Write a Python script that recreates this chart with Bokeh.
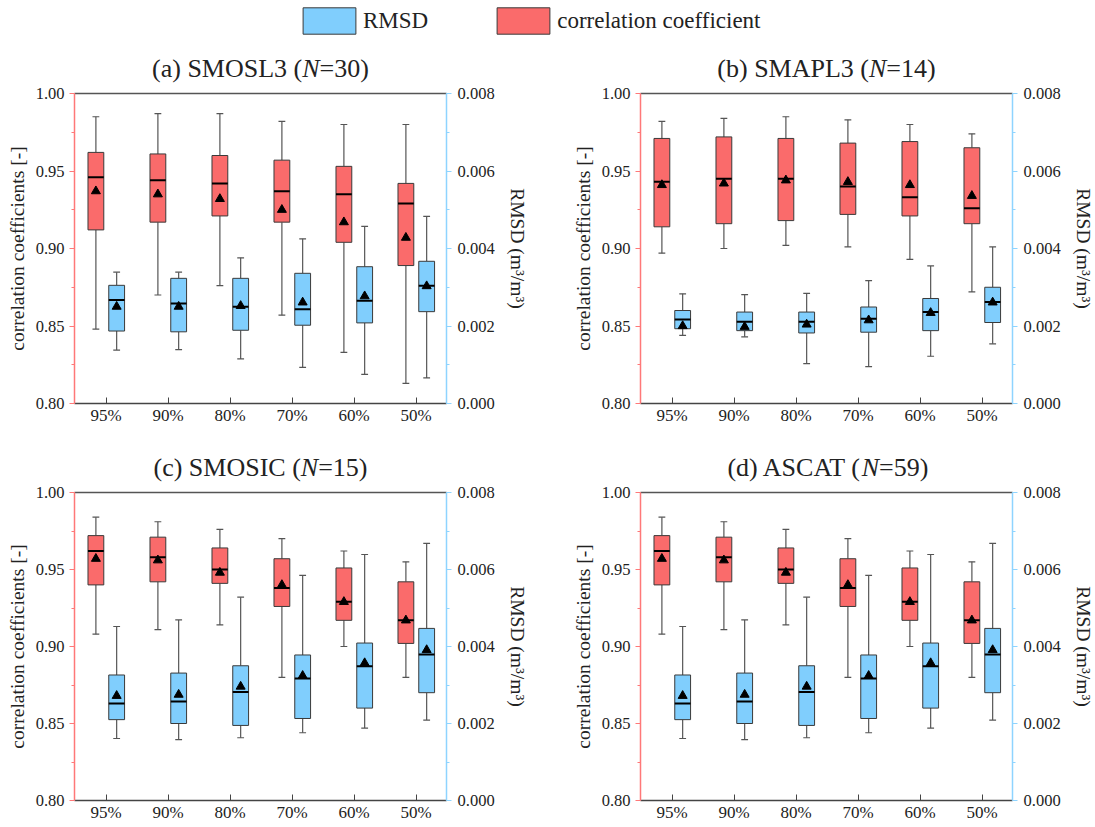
from bokeh.plotting import figure
from bokeh.models import (Range1d, LinearAxis, FixedTicker, NumeralTickFormatter,
                          Label, Legend, LegendItem, ColumnDataSource)
from bokeh.layouts import column, row
from bokeh.embed import file_html
from bokeh.resources import INLINE

# ---------------- data ----------------
categories = ["95%", "90%", "80%", "70%", "60%", "50%"]
corr_ticks = [0.80, 0.85, 0.90, 0.95, 1.00]
corr_minor = [0.825, 0.875, 0.925, 0.975]
rmsd_ticks = [0.000, 0.002, 0.004, 0.006, 0.008]
rmsd_minor = [0.001, 0.003, 0.005, 0.007]

# (a) SMOSL3
a_r_lo = [0.848, 0.870, 0.876, 0.857, 0.833, 0.813]
a_r_q1 = [0.912, 0.917, 0.921, 0.917, 0.904, 0.889]
a_r_med = [0.946, 0.944, 0.942, 0.937, 0.935, 0.929]
a_r_q3 = [0.962, 0.961, 0.960, 0.957, 0.953, 0.942]
a_r_hi = [0.985, 0.987, 0.987, 0.982, 0.980, 0.980]
a_r_mean = [0.937, 0.935, 0.932, 0.925, 0.917, 0.907]
a_e_lo = [0.00138, 0.00139, 0.00115, 0.00093, 0.00075, 0.00066]
a_e_q1 = [0.00187, 0.00185, 0.00189, 0.00202, 0.00208, 0.00237]
a_e_med = [0.00267, 0.00258, 0.00250, 0.00243, 0.00265, 0.00304]
a_e_q3 = [0.00305, 0.00323, 0.00323, 0.00336, 0.00353, 0.00367]
a_e_hi = [0.00339, 0.00339, 0.00376, 0.00425, 0.00457, 0.00483]
a_e_mean = [0.00250, 0.00250, 0.00252, 0.00261, 0.00277, 0.00303]

# (b) SMAPL3
b_r_lo = [0.897, 0.900, 0.902, 0.901, 0.893, 0.872]
b_r_q1 = [0.914, 0.916, 0.918, 0.922, 0.921, 0.916]
b_r_med = [0.943, 0.945, 0.945, 0.940, 0.933, 0.926]
b_r_q3 = [0.971, 0.972, 0.971, 0.968, 0.969, 0.965]
b_r_hi = [0.982, 0.984, 0.985, 0.983, 0.980, 0.974]
b_r_mean = [0.941, 0.942, 0.944, 0.943, 0.941, 0.934]
b_e_lo = [0.00176, 0.00172, 0.00103, 0.00095, 0.00122, 0.00154]
b_e_q1 = [0.00193, 0.00188, 0.00182, 0.00184, 0.00188, 0.00209]
b_e_med = [0.00217, 0.00211, 0.00211, 0.00219, 0.00236, 0.00262]
b_e_q3 = [0.00240, 0.00236, 0.00236, 0.00249, 0.00271, 0.00300]
b_e_hi = [0.00283, 0.00281, 0.00284, 0.00317, 0.00355, 0.00404]
b_e_mean = [0.00200, 0.00198, 0.00204, 0.00215, 0.00234, 0.00261]

# (c) SMOSIC
c_r_lo = [0.908, 0.911, 0.914, 0.880, 0.900, 0.880]
c_r_q1 = [0.940, 0.942, 0.941, 0.926, 0.917, 0.902]
c_r_med = [0.962, 0.958, 0.950, 0.938, 0.929, 0.917]
c_r_q3 = [0.972, 0.971, 0.964, 0.957, 0.951, 0.942]
c_r_hi = [0.984, 0.981, 0.976, 0.970, 0.962, 0.955]
c_r_mean = [0.957, 0.956, 0.948, 0.940, 0.929, 0.917]
c_e_lo = [0.00161, 0.00158, 0.00163, 0.00176, 0.00188, 0.00209]
c_e_q1 = [0.00210, 0.00200, 0.00195, 0.00213, 0.00240, 0.00280]
c_e_med = [0.00252, 0.00257, 0.00282, 0.00317, 0.00349, 0.00379]
c_e_q3 = [0.00326, 0.00331, 0.00350, 0.00378, 0.00409, 0.00447]
c_e_hi = [0.00452, 0.00469, 0.00528, 0.00585, 0.00639, 0.00668]
c_e_mean = [0.00272, 0.00275, 0.00296, 0.00324, 0.00357, 0.00391]

# (d) ASCAT (same values as shown in panel c)
d_r_lo = [0.908, 0.911, 0.914, 0.880, 0.900, 0.880]
d_r_q1 = [0.940, 0.942, 0.941, 0.926, 0.917, 0.902]
d_r_med = [0.962, 0.958, 0.950, 0.938, 0.929, 0.917]
d_r_q3 = [0.972, 0.971, 0.964, 0.957, 0.951, 0.942]
d_r_hi = [0.984, 0.981, 0.976, 0.970, 0.962, 0.955]
d_r_mean = [0.957, 0.956, 0.948, 0.940, 0.929, 0.917]
d_e_lo = [0.00161, 0.00158, 0.00163, 0.00176, 0.00188, 0.00209]
d_e_q1 = [0.00210, 0.00200, 0.00195, 0.00213, 0.00240, 0.00280]
d_e_med = [0.00252, 0.00257, 0.00282, 0.00317, 0.00349, 0.00379]
d_e_q3 = [0.00326, 0.00331, 0.00350, 0.00378, 0.00409, 0.00447]
d_e_hi = [0.00452, 0.00469, 0.00528, 0.00585, 0.00639, 0.00668]
d_e_mean = [0.00272, 0.00275, 0.00296, 0.00324, 0.00357, 0.00391]

# ---------------- style ----------------
FONT = "Liberation Serif"
RED = "#FA6B6B"
BLUE = "#80CEFD"
RED_AX = "#FF7878"
BLUE_AX = "#8ED4FF"
TXT = "#222222"
EDGE = "#3A3A3A"
WHISK = "#555555"
BOX_W = 0.255
CAP_W = 0.11
OFF_R = -0.165
OFF_B = 0.17
X0, X1 = -0.51, 5.49
FW = 372
TITLE_SIZE = 26

# approximate Times widths (per 1000 em) for placing the italic N in the titles
TW = {"(": 333, ")": 333, "a": 444, "b": 500, "c": 444, "d": 500, " ": 250,
      "S": 556, "M": 889, "O": 722, "L": 611, "A": 722, "P": 556, "I": 333,
      "C": 667, "T": 611, "=": 564}
for ch in "0123456789":
    TW[ch] = 500


def tw(s, size):
    return sum(TW.get(ch, 500) for ch in s) * size / 1000.0


def draw_box(p, lo, q1, med, q3, hi, mean, offset, fill, y_range_name="default"):
    xs = [i + offset for i in range(len(categories))]
    src = ColumnDataSource(dict(
        x=xs, lo=lo, q1=q1, med=med, q3=q3, hi=hi, mean=mean,
        cl=[x - CAP_W / 2 for x in xs], cr=[x + CAP_W / 2 for x in xs],
        bl=[x - BOX_W / 2 for x in xs], br=[x + BOX_W / 2 for x in xs],
    ))
    kw = dict(source=src, y_range_name=y_range_name)
    p.segment(x0="x", x1="x", y0="lo", y1="q1", line_color=WHISK, line_width=1.2, **kw)
    p.segment(x0="x", x1="x", y0="q3", y1="hi", line_color=WHISK, line_width=1.2, **kw)
    p.segment(x0="cl", x1="cr", y0="lo", y1="lo", line_color=WHISK, line_width=1.2, **kw)
    p.segment(x0="cl", x1="cr", y0="hi", y1="hi", line_color=WHISK, line_width=1.2, **kw)
    p.vbar(x="x", width=BOX_W, bottom="q1", top="q3", fill_color=fill,
           line_color=EDGE, line_width=1, **kw)
    p.segment(x0="bl", x1="br", y0="med", y1="med", line_color="black", line_width=2, **kw)
    p.scatter(x="x", y="mean", marker="triangle", size=9, fill_color="black",
              line_color="black", **kw)


def make_title(prefix, nval, mbl, mbr, height, base):
    t = figure(frame_width=FW, height=height, x_range=Range1d(0, 1), y_range=Range1d(0, 1),
               toolbar_location=None, output_backend="svg",
               x_axis_location=None, y_axis_location=None,
               min_border_left=mbl, min_border_right=mbr, min_border_top=0, min_border_bottom=0)
    t.grid.visible = False
    t.outline_line_color = None
    size = TITLE_SIZE
    s1 = prefix + " ("
    s3 = "=" + nval + ")"
    wN = 667 * size / 1000.0
    total = tw(s1, size) + wN + tw(s3, size)
    split = -total / 2 + tw(s1, size)
    common = dict(x=0.5, y=0, y_offset=base, text_font=FONT, text_font_size=f"{size}px",
                  text_color=TXT, text_baseline="bottom")
    t.add_layout(Label(text=s1, x_offset=split, text_align="right", **common))
    t.add_layout(Label(text="N", x_offset=split, text_align="left",
                       text_font_style="italic", **common))
    t.add_layout(Label(text=s3, x_offset=split + wN, text_align="left", **common))
    return t


def make_panel(r, e, mbl, mbr, mbt, mbb, fh):
    p = figure(frame_width=FW, frame_height=fh,
               x_range=Range1d(X0, X1), y_range=Range1d(0.80, 1.00),
               toolbar_location=None, output_backend="svg",
               min_border_left=mbl, min_border_right=mbr,
               min_border_top=mbt, min_border_bottom=mbb)
    p.extra_y_ranges = {"rmsd": Range1d(0.0, 0.008)}
    p.grid.visible = False
    p.outline_line_color = None

    # bottom axis
    xa = p.xaxis[0]
    xa.ticker = FixedTicker(ticks=list(range(len(categories))))
    xa.major_label_overrides = {i: c for i, c in enumerate(categories)}
    xa.major_tick_in = 6
    xa.major_tick_out = 0
    xa.minor_tick_line_color = None
    xa.axis_line_color = "#444444"
    xa.axis_line_width = 1.5
    xa.major_tick_line_color = "#444444"
    xa.major_label_text_font = FONT
    xa.major_label_text_font_size = "17px"
    xa.major_label_text_color = TXT
    xa.major_label_standoff = 2

    # left axis
    ya = p.yaxis[0]
    ya.ticker = FixedTicker(ticks=corr_ticks, minor_ticks=corr_minor)
    ya.formatter = NumeralTickFormatter(format="0.00")
    ya.axis_label = "correlation coefficients [-]"
    ya.axis_label_text_font = FONT
    ya.axis_label_text_font_style = "normal"
    ya.axis_label_text_font_size = "19.5px"
    ya.axis_label_text_color = TXT
    ya.axis_label_standoff = 5
    ya.major_label_text_font = FONT
    ya.major_label_text_font_size = "16.5px"
    ya.major_label_text_color = TXT
    ya.major_label_standoff = 5
    ya.axis_line_color = RED_AX
    ya.axis_line_width = 1.5
    ya.major_tick_line_color = RED_AX
    ya.minor_tick_line_color = RED_AX
    ya.major_tick_in = 0
    ya.major_tick_out = 5
    ya.minor_tick_in = 0
    ya.minor_tick_out = 3

    # right axis
    ra = LinearAxis(y_range_name="rmsd", axis_label="RMSD (m³/m³)")
    ra.ticker = FixedTicker(ticks=rmsd_ticks, minor_ticks=rmsd_minor)
    ra.formatter = NumeralTickFormatter(format="0.000")
    ra.axis_label_text_font = FONT
    ra.axis_label_text_font_style = "normal"
    ra.axis_label_text_font_size = "19.5px"
    ra.axis_label_text_color = TXT
    ra.axis_label_standoff = 9
    ra.major_label_text_font = FONT
    ra.major_label_text_font_size = "16.5px"
    ra.major_label_text_color = TXT
    ra.major_label_standoff = 6
    ra.axis_line_color = BLUE_AX
    ra.axis_line_width = 1.5
    ra.major_tick_line_color = BLUE_AX
    ra.minor_tick_line_color = BLUE_AX
    ra.major_tick_in = 0
    ra.major_tick_out = 5
    ra.minor_tick_in = 0
    ra.minor_tick_out = 3
    p.add_layout(ra, "right")

    # top frame line
    ta = LinearAxis(ticker=FixedTicker(ticks=[]), major_label_text_font_size="0px",
                    axis_line_color="#555555", axis_line_width=1.5,
                    major_tick_line_color=None, minor_tick_line_color=None,
                    major_label_standoff=0)
    p.add_layout(ta, "above")

    draw_box(p, *r, OFF_R, RED)
    draw_box(p, *e, OFF_B, BLUE, y_range_name="rmsd")
    return p


ra_ = (a_r_lo, a_r_q1, a_r_med, a_r_q3, a_r_hi, a_r_mean)
ea_ = (a_e_lo, a_e_q1, a_e_med, a_e_q3, a_e_hi, a_e_mean)
rb_ = (b_r_lo, b_r_q1, b_r_med, b_r_q3, b_r_hi, b_r_mean)
eb_ = (b_e_lo, b_e_q1, b_e_med, b_e_q3, b_e_hi, b_e_mean)
rc_ = (c_r_lo, c_r_q1, c_r_med, c_r_q3, c_r_hi, c_r_mean)
ec_ = (c_e_lo, c_e_q1, c_e_med, c_e_q3, c_e_hi, c_e_mean)
rd_ = (d_r_lo, d_r_q1, d_r_med, d_r_q3, d_r_hi, d_r_mean)
ed_ = (d_e_lo, d_e_q1, d_e_med, d_e_q3, d_e_hi, d_e_mean)

LA, RA_, LB, RB = 74, 120, 74, 78

ta_ = make_title("(a) SMOSL3", "30", LA, RA_, 43, 1)
tb_ = make_title("(b) SMAPL3", "14", LB, RB, 43, 1)
tc_ = make_title("(c) SMOSIC", "15", LA, RA_, 41, 1)
td_ = make_title("(d) ASCAT", "59", LB, RB, 41, 1)

pa = make_panel(ra_, ea_, LA, RA_, 10, 38, 310)
pb = make_panel(rb_, eb_, LB, RB, 10, 38, 310)
pc = make_panel(rc_, ec_, LA, RA_, 10, 25, 308)
pd = make_panel(rd_, ed_, LB, RB, 10, 25, 308)

# ---------------- legend ----------------
lg = figure(width=1090, height=40, toolbar_location=None, output_backend="svg",
            x_range=Range1d(0, 1), y_range=Range1d(0, 1),
            x_axis_location=None, y_axis_location=None, min_border=0)
lg.grid.visible = False
lg.outline_line_color = None
# legend proxies (placed outside the visible range)
r_blue = lg.quad(left=[2], right=[3], top=[3], bottom=[2], fill_color=BLUE,
                 line_color=EDGE, line_width=1)
r_red = lg.quad(left=[2], right=[3], top=[3], bottom=[2], fill_color=RED,
                line_color=EDGE, line_width=1)
legend = Legend(items=[LegendItem(label="RMSD", renderers=[r_blue]),
                       LegendItem(label="correlation coefficient", renderers=[r_red])],
                orientation="horizontal", location=(296, 3),
                glyph_width=66, glyph_height=33, label_standoff=1, spacing=62,
                padding=0, margin=0, border_line_color=None, background_fill_alpha=0,
                label_text_font=FONT, label_text_font_size="23px", label_text_color=TXT,
                label_height=33)
lg.add_layout(legend, "center")

layout = column(lg, row(ta_, tb_), row(pa, pb), row(tc_, td_), row(pc, pd))

with open("out.html", "w") as f:
    f.write(file_html(layout, INLINE))
